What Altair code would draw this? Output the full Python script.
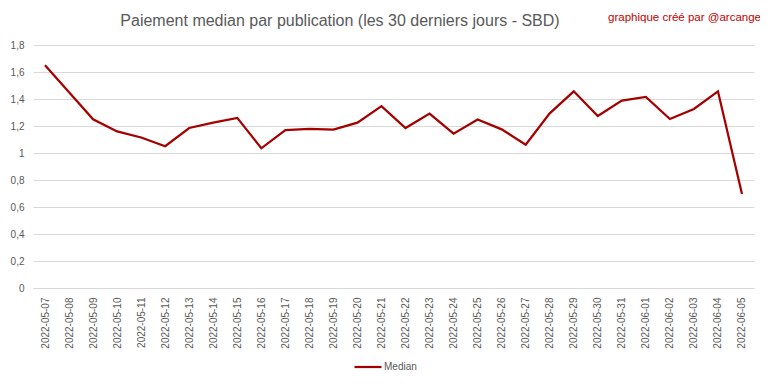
import altair as alt
import pandas as pd

dates = [
    "2022-05-07", "2022-05-08", "2022-05-09", "2022-05-10", "2022-05-11",
    "2022-05-12", "2022-05-13", "2022-05-14", "2022-05-15", "2022-05-16",
    "2022-05-17", "2022-05-18", "2022-05-19", "2022-05-20", "2022-05-21",
    "2022-05-22", "2022-05-23", "2022-05-24", "2022-05-25", "2022-05-26",
    "2022-05-27", "2022-05-28", "2022-05-29", "2022-05-30", "2022-05-31",
    "2022-06-01", "2022-06-02", "2022-06-03", "2022-06-04", "2022-06-05",
]
median = [
    1.65, 1.45, 1.25, 1.16, 1.115, 1.05, 1.185, 1.225, 1.26, 1.035,
    1.17, 1.178, 1.173, 1.225, 1.347, 1.185, 1.292, 1.143, 1.248, 1.175,
    1.062, 1.294, 1.457, 1.274, 1.388, 1.415, 1.252, 1.326, 1.457, 0.696,
]
series_name = "Median"
title_text = "Paiement median par publication (les 30 derniers jours - SBD)"
credit_text = "graphique créé par @arcange"

df = pd.DataFrame({"date": dates, "value": median, "serie": [series_name] * len(dates)})

GRAY = "#595959"
RED = "#A50000"
FONT = "Liberation Sans"

line = alt.Chart(df).mark_line(strokeWidth=2.25, strokeJoin="miter").encode(
    x=alt.X(
        "date:O",
        scale=alt.Scale(type="point", padding=0.5),
        axis=alt.Axis(
            title=None, labelAngle=-90, labelPadding=9, ticks=False,
            domain=True, domainColor="#d9d9d9", labelFontSize=10,
            labelColor=GRAY, labelFont=FONT,
        ),
    ),
    y=alt.Y(
        "value:Q",
        scale=alt.Scale(domain=[0, 1.8], nice=False),
        axis=alt.Axis(
            title=None, values=[0, 0.2, 0.4, 0.6, 0.8, 1, 1.2, 1.4, 1.6, 1.8],
            labelExpr="replace(format(datum.value, '~g'), '.', ',')",
            ticks=False, domain=False, gridColor="#d9d9d9", labelPadding=9,
            labelFontSize=10, labelColor=GRAY, labelFont=FONT,
        ),
    ),
    color=alt.Color(
        "serie:N",
        scale=alt.Scale(range=[RED]),
        legend=alt.Legend(
            title=None, orient="none", legendX=320, legendY=307,
            symbolType="stroke", symbolSize=729, symbolStrokeWidth=2.25,
            labelFontSize=10, labelColor=GRAY, labelFont=FONT,
            labelOffset=1,
        ),
    ),
)

title = alt.Chart(pd.DataFrame({"t": [title_text]})).mark_text(
    align="center", baseline="middle", fontSize=16, color=GRAY, font=FONT,
).encode(text="t:N", x=alt.value(307), y=alt.value(-24))

credit = alt.Chart(pd.DataFrame({"t": [credit_text]})).mark_text(
    align="right", baseline="middle", fontSize=11.5, color="#C00000", font=FONT,
).encode(text="t:N", x=alt.value(728), y=alt.value(-27))

chart = alt.layer(line, title, credit).properties(
    width=721,
    height=243,
    padding={"left": 25, "top": 37, "right": 6, "bottom": 88},
    autosize=alt.AutoSizeParams(type="none"),
).configure_view(stroke=None)

chart.save("out.html", embed_options={"renderer": "svg", "actions": False})
